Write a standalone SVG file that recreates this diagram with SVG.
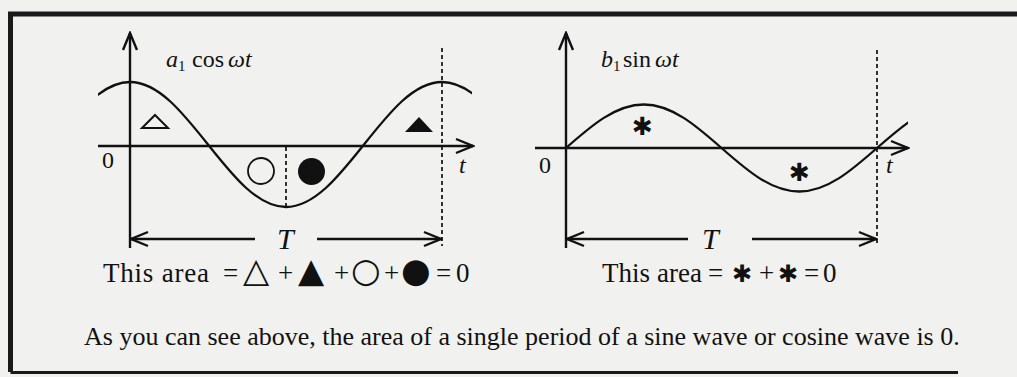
<svg xmlns="http://www.w3.org/2000/svg" width="1017" height="377" viewBox="0 0 1017 377">
<style>
.ln{fill:none;stroke:#111;stroke-width:2.4}
.crv{fill:none;stroke:#111;stroke-width:2.3}
.dash{fill:none;stroke:#111;stroke-width:1.7;stroke-dasharray:4 3}
.lbl{font-family:"Liberation Serif",serif;font-size:24px;fill:#111}
.it{font-style:italic}
.sub{font-size:15px}
.big{font-family:"Liberation Serif",serif;font-size:30px;fill:#111;font-style:italic}
.eq{font-family:"Liberation Serif",serif;font-size:27px;fill:#111}
.note{font-family:"Liberation Serif",serif;font-size:26px;fill:#111}
.sym{font-family:"DejaVu Sans",sans-serif;font-size:34px}
.sa{font-family:"DejaVu Sans",sans-serif;font-size:24px}
.ast{font-family:"DejaVu Sans",sans-serif;font-size:25px;fill:#111}
</style>
<defs>
<marker id="arr" viewBox="-20 -10 22 20" refX="0" refY="0" markerWidth="22" markerHeight="20" markerUnits="userSpaceOnUse" orient="auto">
<path d="M-17,-7 L0,0 L-17,7" fill="none" stroke="#111" stroke-width="2.4"/>
</marker>
<clipPath id="cc"><rect x="98" y="60" width="374" height="160"/></clipPath>
<clipPath id="sc"><rect x="566" y="60" width="342" height="160"/></clipPath>
</defs>
<rect width="1017" height="377" fill="#f1f1ef"/>
<g id="frame" fill="none" stroke="#1a1a1a">
<path d="M1017,14 H10.5 V372" stroke-width="5"/>
<path d="M10.5,372.5 H958" stroke-width="3"/>
</g>

<g id="cos-panel">
<path class="crv" clip-path="url(#cc)" d="M52,144.5 C77.44,112.48 101.77,82 130,82 C158.23,82 182.56,112.48 208,144.5 C233.44,176.52 257.77,207 286,207 C314.23,207 338.56,176.52 364,144.5 C389.44,112.48 413.77,82 442,82 C470.23,82 494.56,112.48 520,144.5"/>
<line class="dash" x1="286" y1="147" x2="286" y2="207"/>
<line class="dash" x1="442" y1="48" x2="442" y2="246"/>
<polygon points="155,115 168,128 142,128" fill="none" stroke="#111" stroke-width="2"/>
<polygon points="419,117 433,132 405,132" fill="#111"/>
<circle cx="261" cy="171" r="13" fill="none" stroke="#111" stroke-width="1.8"/>
<circle cx="311.5" cy="171.5" r="13.5" fill="#111"/>
<text class="lbl" x="166" y="67"><tspan class="it">a</tspan><tspan class="sub" dy="4">1</tspan><tspan x="192" dy="-4">cos</tspan><tspan class="it" x="228">ωt</tspan></text>
<text class="lbl" x="102" y="168">0</text>
<text class="lbl it" x="459" y="173">t</text>
<text class="big" x="277" y="249">T</text>
<text class="eq" y="282"><tspan x="103" textLength="106" lengthAdjust="spacing">This area</tspan><tspan x="223">=</tspan><tspan class="sym" x="243">△</tspan><tspan x="278">+</tspan><tspan class="sym" x="298">▲</tspan><tspan x="334">+</tspan><tspan class="sym" x="351">○</tspan><tspan x="384">+</tspan><tspan class="sym" x="401">●</tspan><tspan x="436">=</tspan><tspan x="456">0</tspan></text>
</g>

<g id="sin-panel">
<path class="crv" clip-path="url(#sc)" d="M566,148 C591.35,125.71 615.61,104.5 643.75,104.5 C671.89,104.5 696.15,125.71 721.5,148 C746.85,170.29 771.11,191.5 799.25,191.5 C827.39,191.5 851.65,170.29 877,148 C902.35,125.71 926.61,104.5 954.75,104.5"/>
<line class="dash" x1="877" y1="50" x2="877" y2="246"/>
<text class="ast" x="632" y="135">✱</text>
<text class="ast" x="789" y="181">✱</text>
<text class="lbl" x="601" y="67"><tspan class="it">b</tspan><tspan class="sub" dy="4">1</tspan><tspan x="623" dy="-4">sin</tspan><tspan class="it" x="655">ωt</tspan></text>
<text class="lbl" x="539" y="173">0</text>
<text class="lbl it" x="886" y="173">t</text>
<text class="big" x="702" y="249">T</text>
<text class="eq" y="282"><tspan x="602" textLength="100" lengthAdjust="spacing">This area</tspan><tspan x="708">=</tspan><tspan class="sa" x="732">✱</tspan><tspan x="759">+</tspan><tspan class="sa" x="778">✱</tspan><tspan x="804">=</tspan><tspan x="823">0</tspan></text>
</g>

<g id="connectors">
<line class="ln" x1="130" y1="248" x2="130" y2="33" marker-end="url(#arr)"/>
<line class="ln" x1="98" y1="146" x2="473" y2="146" marker-end="url(#arr)"/>
<line class="ln" x1="255" y1="239" x2="131" y2="239" marker-end="url(#arr)"/>
<line class="ln" x1="317" y1="239" x2="441" y2="239" marker-end="url(#arr)"/>
<line class="ln" x1="566" y1="248" x2="566" y2="33" marker-end="url(#arr)"/>
<line class="ln" x1="535" y1="148" x2="908" y2="148" marker-end="url(#arr)"/>
<line class="ln" x1="688" y1="239" x2="567" y2="239" marker-end="url(#arr)"/>
<line class="ln" x1="752" y1="239" x2="876" y2="239" marker-end="url(#arr)"/>
</g>

<text class="note" x="84" y="345">As you can see above, the area of a single period of a sine wave or cosine wave is 0.</text>
</svg>
